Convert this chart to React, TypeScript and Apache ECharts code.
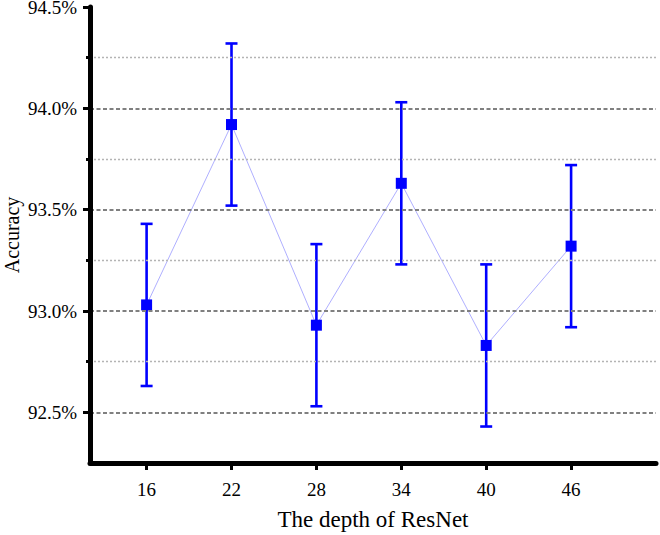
import React, { useEffect, useRef } from "react";
import * as echarts from "echarts";

const depths = [16, 22, 28, 34, 40, 46];
const accuracy = [93.03, 93.92, 92.93, 93.63, 92.83, 93.32];
const errorHalf = [0.4, 0.4, 0.4, 0.4, 0.4, 0.4];
const yMajorTicks = [92.5, 93.0, 93.5, 94.0, 94.5];
const yMinorTicks = [92.75, 93.25, 93.75, 94.25];
const majorGrid = [92.5, 93.0, 93.5, 94.0];
const minorGrid = [92.75, 93.25, 93.75, 94.25];

const FONT = "'Liberation Serif', 'Times New Roman', serif";

export default function App() {
  const ref = useRef<HTMLDivElement>(null);
  useEffect(() => {
    if (!ref.current) return;
    const chart = echarts.init(ref.current, null, { renderer: "svg" });
    const errData = depths.map((d, i) => [d, accuracy[i] - errorHalf[i], accuracy[i] + errorHalf[i]]);
    const lineData = depths.map((d, i) => [d, accuracy[i]]);
    chart.setOption({
      animation: false,
      grid: { left: 90, right: 4, top: 7, bottom: 72, containLabel: false, outerBoundsMode: "none" },
      xAxis: {
        type: "value",
        min: 12,
        max: 52,
        z: 5,
        name: "The depth of ResNet",
        nameLocation: "middle",
        nameGap: 45,
        nameMoveOverlap: false,
        nameTextStyle: { fontFamily: FONT, fontSize: 23, color: "#000" },
        axisLine: { show: true, lineStyle: { color: "#000", width: 5 } },
        axisTick: { show: true, customValues: depths, length: 7, lineStyle: { color: "#000", width: 3 } },
        axisLabel: { customValues: depths, margin: 17, fontFamily: FONT, fontSize: 19, color: "#000" },
        splitLine: { show: false },
      },
      yAxis: [
        {
          type: "value",
          min: 92.25,
          max: 94.5,
          interval: 0.25,
          z: 5,
          name: "Accuracy",
          nameLocation: "middle",
          nameGap: 68,
          nameMoveOverlap: false,
          nameTextStyle: { fontFamily: FONT, fontSize: 20, color: "#000" },
          axisLine: { show: true, lineStyle: { color: "#000", width: 5 } },
          axisTick: { show: true, customValues: yMajorTicks, length: 7, lineStyle: { color: "#000", width: 3 } },
          axisLabel: {
            customValues: yMajorTicks,
            margin: 13,
            fontFamily: FONT,
            fontSize: 19,
            color: "#000",
            formatter: (v: number) => v.toFixed(1) + "%",
          },
          splitLine: { show: false },
        },
        {
          type: "value",
          min: 92.25,
          max: 94.5,
          interval: 0.25,
          position: "left",
          z: 5,
          axisLine: { show: false },
          axisTick: { show: true, customValues: yMinorTicks, length: 4, lineStyle: { color: "#000", width: 3 } },
          axisLabel: { show: false },
          splitLine: { show: false },
        },
      ],
      series: [
        {
          type: "line",
          data: [],
          silent: true,
          markLine: {
            silent: true,
            symbol: "none",
            label: { show: false },
            data: [
              ...majorGrid.map((v) => ({
                yAxis: v,
                lineStyle: { type: [4, 2.5], color: "#808080", width: 2 },
              })),
              ...minorGrid.map((v) => ({
                yAxis: v,
                lineStyle: { type: [2, 2], color: "#b4b4b4", width: 1.3 },
              })),
            ],
          },
          z: 1,
        },
        {
          type: "custom",
          data: errData,
          encode: { x: 0, y: [1, 2] },
          z: 3,
          renderItem: (params: any, api: any) => {
            const x = api.value(0);
            const lo = api.coord([x, api.value(1)]);
            const hi = api.coord([x, api.value(2)]);
            const hw = 6;
            const style = { stroke: "#0000ff", lineWidth: 2.6 };
            return {
              type: "group",
              children: [
                { type: "line", shape: { x1: lo[0], y1: lo[1], x2: hi[0], y2: hi[1] }, style },
                { type: "line", shape: { x1: lo[0] - hw, y1: lo[1], x2: lo[0] + hw, y2: lo[1] }, style },
                { type: "line", shape: { x1: hi[0] - hw, y1: hi[1], x2: hi[0] + hw, y2: hi[1] }, style },
              ],
            };
          },
        },
        {
          type: "line",
          data: lineData,
          symbol: "rect",
          symbolSize: 11,
          itemStyle: { color: "#0000ff" },
          lineStyle: { color: "#9a9aff", width: 0.8 },
          z: 4,
        },
      ],
    });
    return () => chart.dispose();
  }, []);
  return (
    <div
      ref={ref}
      style={{ position: "fixed", left: 0, top: 0, width: 660, height: 535, background: "#fff" }}
    />
  );
}
